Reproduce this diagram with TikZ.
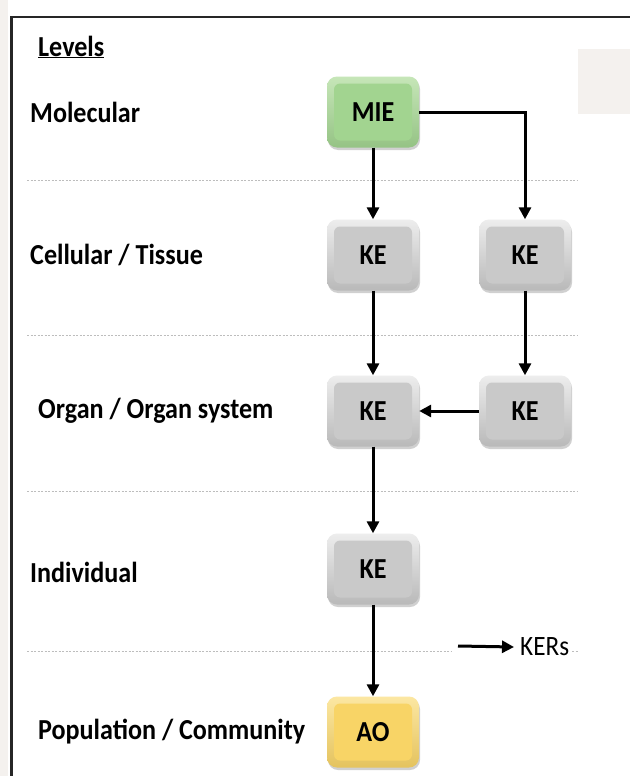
\documentclass[tikz,border=0pt]{standalone}
\usepackage{fontspec}
\setmainfont{Carlito}[FakeStretch=0.9]
\usetikzlibrary{arrows.meta,shadows}
\definecolor{strip}{HTML}{F4F1EE}
\definecolor{sep}{HTML}{BDBDBD}
\definecolor{greenedge}{HTML}{C6E6B8}
\definecolor{greenface}{HTML}{A2D490}
\definecolor{grayedge}{HTML}{EDEDED}
\definecolor{grayface}{HTML}{C9C9C9}
\definecolor{yellowedge}{HTML}{FCE7A2}
\definecolor{yellowface}{HTML}{F8D466}
\tikzset{
  lvl/.style={anchor=west, font=\fontsize{29}{32}\selectfont\bfseries, inner sep=0pt},
  boxbase/.style={minimum width=92pt, minimum height=71pt, rounded corners=10pt,
     font=\fontsize{29}{32}\selectfont\bfseries, inner sep=0pt,
     drop shadow={shadow xshift=1pt, shadow yshift=-2.5pt, opacity=0.3, fill=black!60}},
  evbox/.style 2 args={boxbase, top color=#1, bottom color=#2!92!black,
     path picture={\fill[#2, rounded corners=6pt]
       ([shift={(7pt,-7pt)}]path picture bounding box.north west) rectangle
       ([shift={(-7pt,7pt)}]path picture bounding box.south east);}},
  mie/.style={evbox={greenedge}{greenface}},
  ke/.style={evbox={grayedge}{grayface}},
  ao/.style={evbox={yellowedge}{yellowface}},
  sepline/.style={draw=sep, line width=0.8pt, dash pattern=on 2pt off 1.5pt},
  ker/.style={line width=3pt, -{Triangle[length=12pt,width=12pt]}},
  frame/.style={line width=2.8pt, black!85}
}
\begin{document}
\begin{tikzpicture}[x=1pt,y=-1pt]
\useasboundingbox (0,0) rectangle (630,776);
\fill[white] (0,0) rectangle (630,776);
\fill[strip] (0,0) rectangle (8,776);
\fill[strip] (578,49) rectangle (630,114);
\draw[frame] (11.5,776) -- (11.5,17) -- (630,17);

% separators
\draw[sepline] (27,180) -- (578,180);
\draw[sepline] (27,335) -- (578,335);
\draw[sepline] (27,491) -- (578,491);
\draw[sepline] (27,651) -- (452,651);
\draw[sepline] (572,651) -- (578,651);

% level labels
\node[lvl] (levels) at (38,47) {\underline{Levels}};
\node[lvl] (lmol) at (30,112) {Molecular};
\node[lvl] (lcell) at (30,255) {Cellular / Tissue};
\node[lvl] (lorg) at (38,411) {Organ / Organ system};
\node[lvl] (lind) at (30,572) {Individual};
\node[lvl] (lpop) at (38,732) {Population / Community};

% event boxes
\node[mie] (mie) at (373,112) {MIE};
\node[ke] (ke1) at (373,255) {KE};
\node[ke] (ke2) at (525,255) {KE};
\node[ke] (ke3) at (373,411) {KE};
\node[ke] (ke4) at (525,411) {KE};
\node[ke] (ke5) at (373,569) {KE};
\node[ao] (ao) at (373,732) {AO};

% connectors
\draw[ker] (mie.south) -- (ke1.north);
\draw[ker] (mie.east) -| (ke2.north);
\draw[ker] (ke1.south) -- (ke3.north);
\draw[ker] (ke2.south) -- (ke4.north);
\draw[ker] (ke4.west) -- (ke3.east);
\draw[ker] (ke3.south) -- (ke5.north);
\draw[ker] (ke5.south) -- (ao.north);

% legend
\coordinate (legstart) at (458,646);
\node[anchor=west, inner sep=0pt, font=\fontsize{28}{32}\selectfont] (kers) at (520,647) {KERs};
\draw[ker] (legstart) -- ([xshift=-6pt]kers.west);
\end{tikzpicture}
\end{document}
